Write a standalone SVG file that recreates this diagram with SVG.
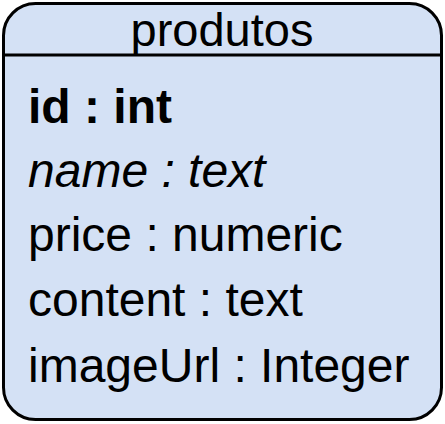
<svg xmlns="http://www.w3.org/2000/svg" width="445" height="424" viewBox="0 0 445 424">
<style>
.t{font-family:"Liberation Sans",Arial,sans-serif;font-size:48px;fill:#000}
</style>
<rect width="445" height="424" fill="#ffffff"/>
<g id="produtos">
<rect x="3.5" y="3.5" width="438" height="416" rx="32" ry="32" fill="#D4E1F5" stroke="#000" stroke-width="3"/>
<line x1="3.5" y1="55" x2="441.5" y2="55" stroke="#000" stroke-width="3"/>
<text class="t" x="222" y="46" text-anchor="middle" style="font-size:47px">produtos</text>
<text class="t" x="28" y="123" font-weight="bold">id : int</text>
<text class="t" x="28" y="187" font-style="italic">name : text</text>
<text class="t" x="28" y="251">price : numeric</text>
<text class="t" x="28" y="316">content : text</text>
<text class="t" x="28" y="382">imageUrl : Integer</text>
</g>
<g id="connectors"/>
</svg>
